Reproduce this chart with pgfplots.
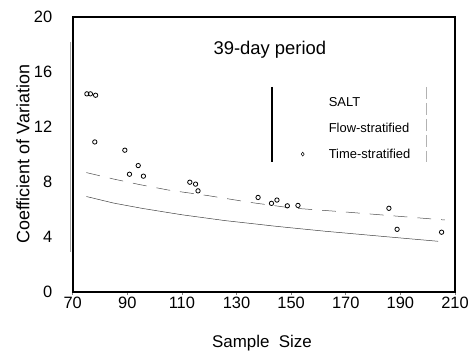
\documentclass[border=0pt]{standalone}
\usepackage{fontspec}
\setmainfont{Liberation Sans}
\usepackage{pgfplots}
\pgfplotsset{compat=1.18}
\pgfplotsset{
  timeleg/.style={legend image code/.code={%
    \draw[##1, mark size=2pt, mark options={line width=0.5pt}, mark=diamond] plot coordinates {(0pt,0pt)};
    \path (-3pt,0pt) (24pt,0pt);}},
  blankleg/.style={legend image code/.code={\path (-3pt,0pt) (24pt,0pt);}},
}
\begin{document}
\begin{tikzpicture}
\begin{axis}[
  scale only axis,
  width=384pt, height=276pt,
  xmin=70, xmax=210, ymin=0, ymax=20,
  xtick={70,90,...,210}, ytick={0,4,...,20},
  /pgf/number format/assume math mode=true,
  axis line style={line width=2pt},
  xtick pos=bottom, ytick pos=left,
  tick align=outside,
  major tick length=3pt,
  ytick style={draw=none},
  xtick style={line width=0.6pt},
  ticklabel style={font=\fontsize{16.5}{18}\selectfont},
  yticklabel style={anchor=east, xshift=-14pt},
  xticklabel style={anchor=north, yshift=1pt},
  xlabel={Sample\ \ Size},
  ylabel={Coefficient of Variation},
  xlabel style={font=\fontsize{17}{19}\selectfont, at={(axis description cs:0.495,-0.188)}, anchor=center},
  ylabel style={font=\fontsize{18}{20}\selectfont, at={(axis description cs:-0.13,0.5)}, anchor=center, rotate=0},
  clip=false,
  legend style={at={(axis cs:153.0,14.3)}, anchor=north west, draw=none, fill=none,
     font=\fontsize{13}{15}\selectfont, row sep=11pt, inner sep=0pt},
  legend cell align=left,
]
% SALT
\addplot[color=black!75, line width=0.5pt, forget plot] coordinates {
 (75,6.93) (85,6.45) (95.6,6.06) (110,5.6) (126,5.17) (145,4.75) (162.5,4.40) (185,4.0) (203.8,3.67)
};
\addlegendimage{blankleg}
\addlegendentry{SALT}
% Flow-stratified
\addplot[color=black!70, line width=0.5pt, dash pattern=on 14pt off 10pt, forget plot] coordinates {
 (75,8.67) (85,8.2) (94.4,7.8) (105,7.4) (120,6.98) (135,6.5) (150.3,6.09) (170,5.8) (186.8,5.53) (206.3,5.22)
};
\addlegendimage{blankleg}
\addlegendentry{Flow-stratified}
% Time-stratified
\addplot[only marks, mark=o, mark size=2.2pt, mark options={line width=0.8pt, black}, timeleg] coordinates {
 (75.2,14.4) (76.5,14.4) (78.4,14.3)
 (78.1,10.9) (89.1,10.3) (94.0,9.18) (90.8,8.55) (95.9,8.41)
 (112.9,7.97) (115.0,7.83) (115.9,7.34)
 (137.9,6.86) (142.8,6.43) (144.8,6.67) (148.6,6.25) (152.5,6.28)
 (185.8,6.07) (188.8,4.54) (205.1,4.33)
};
\addlegendentry{Time-stratified}
\node[font=\fontsize{18.5}{20}\selectfont] at (axis cs:142.2,17.6) {39-day period};
\draw[line width=1.8pt] (axis cs:142.9,14.9) -- (axis cs:142.9,9.42);
\draw[gray!60, line width=0.6pt, dash pattern=on 12pt off 4pt] (axis cs:199.4,14.9) -- (axis cs:199.4,9.42);
\draw[gray!70, line width=0.8pt] (axis cs:69.3,18.2) -- (axis cs:69.3,2.9);
\end{axis}
\path ([xshift=-73pt,yshift=-61pt]current axis.south west) rectangle ([xshift=15pt,yshift=17pt]current axis.north east);
\end{tikzpicture}
\end{document}
